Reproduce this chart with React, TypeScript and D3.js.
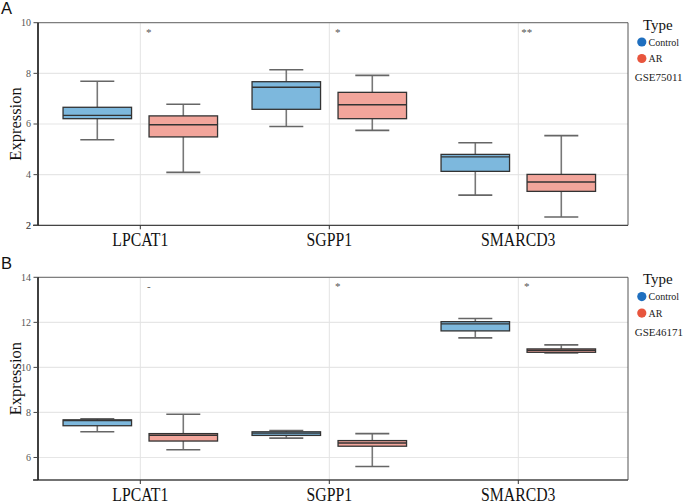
import React from "react";
import * as d3 from "d3";

// ---------- data ----------
const genes = ["LPCAT1", "SGPP1", "SMARCD3"];
const groups = ["Control", "AR"];

// panel A (GSE75011): [whiskerLow, q1, median, q3, whiskerHigh]
const statsA_Control = [
  [5.38, 6.21, 6.34, 6.66, 7.69],
  [5.9, 6.58, 7.45, 7.67, 8.14],
  [3.19, 4.13, 4.7, 4.8, 5.26],
];
const statsA_AR = [
  [4.09, 5.49, 5.97, 6.32, 6.78],
  [5.75, 6.21, 6.76, 7.25, 7.92],
  [2.33, 3.34, 3.71, 4.01, 5.54],
];
const sigA = ["*", "*", "**"];
const ticksA = [2, 4, 6, 8, 10];

// panel B (GSE46171)
const statsB_Control = [
  [7.14, 7.41, 7.64, 7.67, 7.72],
  [6.86, 6.98, 7.08, 7.14, 7.2],
  [11.31, 11.62, 11.93, 12.03, 12.17],
];
const statsB_AR = [
  [6.34, 6.73, 6.99, 7.06, 7.92],
  [5.6, 6.5, 6.64, 6.75, 7.06],
  [10.64, 10.67, 10.76, 10.82, 11.0],
];
const sigB = ["-", "*", "*"];
const ticksB = [6, 8, 10, 12, 14];

const fills = { Control: "#7db8dd", AR: "#f2a59b" };
const legendColors = { Control: "#1f6fbf", AR: "#e8553d" };

const SERIF = "Liberation Serif";
const SANS = "Liberation Sans";

const LEFT = 38;
const RIGHT = 628;

type PanelProps = {
  letter: string;
  top: number;
  bottom: number;
  domain: [number, number];
  ticks: number[];
  ctrl: number[][];
  ar: number[][];
  sig: string[];
  dataset: string;
};

function Panel({ letter, top, bottom, domain, ticks, ctrl, ar, sig, dataset }: PanelProps) {
  const y = d3.scaleLinear().domain(domain).range([bottom, top]);
  const x = d3.scalePoint<string>().domain(genes).range([140.3, 518.3]);
  const gx = d3.scalePoint<string>().domain(groups).range([-43, 43]);
  const boxW = 68.5;
  const capW = 34;

  const boxes: React.ReactNode[] = [];
  genes.forEach((g, i) => {
    groups.forEach((grp) => {
      const s = grp === "Control" ? ctrl[i] : ar[i];
      const cx = (x(g) as number) + (gx(grp) as number);
      boxes.push(
        <g key={g + grp}>
          <line x1={cx} x2={cx} y1={y(s[4])} y2={y(s[3])} stroke="#777" strokeWidth={1.6} />
          <line x1={cx} x2={cx} y1={y(s[1])} y2={y(s[0])} stroke="#777" strokeWidth={1.6} />
          <line x1={cx - capW / 2} x2={cx + capW / 2} y1={y(s[4])} y2={y(s[4])} stroke="#666" strokeWidth={1.6} />
          <line x1={cx - capW / 2} x2={cx + capW / 2} y1={y(s[0])} y2={y(s[0])} stroke="#666" strokeWidth={1.6} />
          <rect
            x={cx - boxW / 2}
            y={y(s[3])}
            width={boxW}
            height={Math.max(0.5, y(s[1]) - y(s[3]))}
            fill={fills[grp as "Control" | "AR"]}
            stroke="#333"
            strokeWidth={1.3}
          />
          <line x1={cx - boxW / 2} x2={cx + boxW / 2} y1={y(s[2])} y2={y(s[2])} stroke="#333" strokeWidth={1.4} />
        </g>
      );
    });
  });

  return (
    <g>
      <text x={1} y={top - 8.5} style={{ fontFamily: SANS }} fontSize={16.5} fill="#111">
        {letter}
      </text>
      {/* grid */}
      {ticks.map((t) => (
        <line key={"h" + t} x1={LEFT} x2={RIGHT} y1={y(t)} y2={y(t)} stroke="#e6e6e6" strokeWidth={1.2} />
      ))}
      {genes.map((g) => (
        <line key={"v" + g} x1={x(g)} x2={x(g)} y1={top} y2={bottom} stroke="#e3e3e3" strokeWidth={1} />
      ))}
      {/* frame */}
      <line x1={LEFT} x2={RIGHT} y1={top} y2={top} stroke="#666" strokeWidth={1} />
      <line x1={RIGHT} x2={RIGHT} y1={top} y2={bottom} stroke="#555" strokeWidth={1} />
      <line x1={33} x2={RIGHT} y1={bottom} y2={bottom} stroke="#444" strokeWidth={1.3} />
      <line x1={LEFT} x2={LEFT} y1={top} y2={bottom} stroke="#111" strokeWidth={1.6} />
      {/* y ticks */}
      {[domain[0], ...ticks].map((t, i) => (
        <g key={"t" + i}>
          <line x1={LEFT - 4.5} x2={LEFT} y1={y(t)} y2={y(t)} stroke="#444" strokeWidth={1} />
          {ticks.includes(t) && (
            <text x={LEFT - 7} y={y(t)} dy="0.33em" textAnchor="end" style={{ fontFamily: SERIF }} fontSize={10} fill="#555">
              {t}
            </text>
          )}
        </g>
      ))}
      {/* x ticks and labels */}
      {genes.map((g) => (
        <g key={"x" + g}>
          <line x1={x(g)} x2={x(g)} y1={bottom} y2={bottom + 4} stroke="#333" strokeWidth={1} />
          <text
            transform={`translate(${x(g)},${bottom + 20.5}) scale(0.83,1)`}
            textAnchor="middle"
            style={{ fontFamily: SERIF }}
            fontSize={19}
            fill="#111"
          >
            {g}
          </text>
        </g>
      ))}
      <text
        transform={`translate(${21},${(top + bottom) / 2}) rotate(-90)`}
        textAnchor="middle"
        style={{ fontFamily: SERIF }}
        fontSize={16.5}
        fill="#111"
      >
        Expression
      </text>
      {boxes}
      {/* significance */}
      {genes.map((g, i) => (
        <text
          key={"s" + g}
          x={(x(g) as number) + 8.5}
          y={top + 13}
          textAnchor="middle"
          style={{ fontFamily: SERIF }}
          fontSize={11}
          fill="#555"
        >
          {sig[i]}
        </text>
      ))}
      {/* legend */}
      <text x={643} y={top + 7} style={{ fontFamily: SERIF }} fontSize={15} fill="#111">
        Type
      </text>
      {groups.map((grp, i) => (
        <g key={"l" + grp}>
          <circle cx={641.8} cy={top + 19.3 + i * 16.5} r={4.6} fill={legendColors[grp as "Control" | "AR"]} />
          <text x={648.5} y={top + 19.3 + i * 16.5} dy="0.35em" style={{ fontFamily: SERIF }} fontSize={10} fill="#222">
            {grp}
          </text>
        </g>
      ))}
      <text x={634.7} y={top + 54.6} dy="0.35em" style={{ fontFamily: SERIF }} fontSize={11} fill="#222">
        {dataset}
      </text>
    </g>
  );
}

export default function App() {
  return (
    <svg
      width={685}
      height={504}
      style={{ position: "absolute", left: 0, top: 0, background: "#fff" }}
    >
      <rect width={685} height={504} fill="#fff" />
      <Panel
        letter="A"
        top={22.7}
        bottom={225.3}
        domain={[2, 10]}
        ticks={ticksA}
        ctrl={statsA_Control}
        ar={statsA_AR}
        sig={sigA}
        dataset="GSE75011"
      />
      <Panel
        letter="B"
        top={277.3}
        bottom={480}
        domain={[5, 14]}
        ticks={ticksB}
        ctrl={statsB_Control}
        ar={statsB_AR}
        sig={sigB}
        dataset="GSE46171"
      />
    </svg>
  );
}
